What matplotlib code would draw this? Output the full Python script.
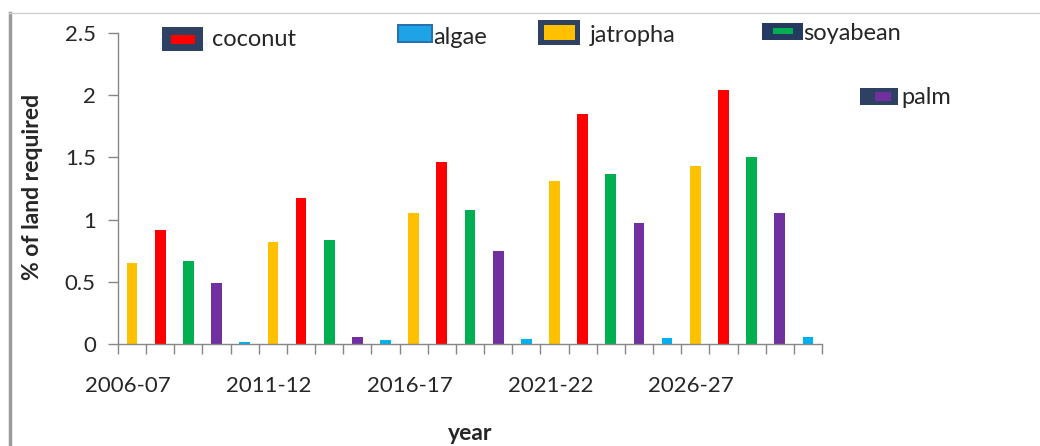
import matplotlib
matplotlib.use("Agg")
import matplotlib.pyplot as plt
from matplotlib.patches import Rectangle
from matplotlib.lines import Line2D
import numpy as np

plt.rcParams['font.family'] = ['Lato', 'DejaVu Sans']

years = ["2006-07", "2011-12", "2016-17", "2021-22", "2026-27"]
crops = ["jatropha", "coconut", "soyabean", "palm", "algae"]
jatropha = [0.65, 0.82, 1.05, 1.31, 1.43]
coconut = [0.92, 1.17, 1.46, 1.85, 2.04]
soyabean = [0.67, 0.84, 1.08, 1.37, 1.50]
palm = [0.49, 0.06, 0.75, 0.97, 1.05]
algae = [0.02, 0.03, 0.04, 0.05, 0.06]
values = [jatropha, coconut, soyabean, palm, algae]
colors = ["#FFC000", "#FF0000", "#00B050", "#7030A0", "#00B0F0"]

W, H = 1040, 446
fig = plt.figure(figsize=(W / 100, H / 100), dpi=100)
ax = fig.add_axes([118 / W, 1 - 344 / H, 704 / W, 311 / H])

# one slot per bar, crops cycle inside each year block
n = len(crops)
for k, (vals, c) in enumerate(zip(values, colors)):
    pos = np.arange(len(years)) * n + k
    ax.bar(pos, vals, width=0.38, color=c, edgecolor="none")

nslots = len(years) * n
ax.set_xlim(-0.5, nslots - 0.5)
ax.set_ylim(0, 2.5)
ax.set_yticks(np.arange(0, 2.51, 0.5))
ax.set_yticklabels(["0", "0.5", "1", "1.5", "2", "2.5"])
ax.set_xticks(np.arange(len(years)) * n - 0.15)
ax.set_xticklabels(years)
ax.set_xticks(np.arange(-0.5, nslots, 1), minor=True)
ax.tick_params(axis="x", which="major", length=0, pad=23, labelsize=16, labelcolor="#262626")
ax.tick_params(axis="x", which="minor", length=7, width=1, color="#868686", direction="out")
ax.tick_params(axis="y", length=7, width=1, color="#868686", pad=9, labelsize=16, labelcolor="#262626")

for s in ["top", "right"]:
    ax.spines[s].set_visible(False)
for s in ["left", "bottom"]:
    ax.spines[s].set_color("#868686")
    ax.spines[s].set_linewidth(1)

fig.text(33 / W, 1 - 187 / H, "% of land required", rotation=90, ha="center", va="center",
         fontsize=16.5, fontweight="bold", color="#262626")
fig.text(470 / W, 1 - 433 / H, "year", ha="center", va="center",
         fontsize=16.5, fontweight="bold", color="#262626")

# legend boxes placed freely around the top of the chart
def px_rect(x0, y0, x1, y1, **kw):
    return Rectangle((x0 / W, 1 - y1 / H), (x1 - x0) / W, (y1 - y0) / H,
                     transform=fig.transFigure, **kw)

legend_items = [
    ("coconut", "#FF0000", "#2F4163", (162, 27, 203, 51), (171, 35, 195, 44), (212, 39)),
    ("algae", "#1EA3E6", "#2A6FAE", (397, 24, 433, 43), (399, 26, 431, 41), (433, 37)),
    ("jatropha", "#FFC000", "#2F4163", (538, 20, 580, 45), (544, 25, 575, 40), (590, 36)),
    ("soyabean", "#00B050", "#253A60", (762, 23, 803, 40), (773, 28, 793, 34), (803, 34)),
    ("palm", "#7030A0", "#2F4163", (860, 88, 898, 105), (875, 92, 891, 101), (901, 97)),
]
for label, fc, ec, outer, inner, txt in legend_items:
    fig.add_artist(px_rect(*outer, facecolor=ec, edgecolor="none"))
    fig.add_artist(px_rect(*inner, facecolor=fc, edgecolor="none"))
    fig.text(txt[0] / W, 1 - txt[1] / H, label, ha="left", va="center",
             fontsize=17, color="#262626")

# chart area border
fig.add_artist(Line2D([9.5 / W, 9.5 / W], [0, 1 - 13 / H], transform=fig.transFigure,
                      color="#9A9A9A", linewidth=2.5))
fig.add_artist(Line2D([9 / W, 1], [1 - 13 / H, 1 - 13 / H], transform=fig.transFigure,
                      color="#CFCFCF", linewidth=1))

fig.savefig("out.png", dpi=100)
